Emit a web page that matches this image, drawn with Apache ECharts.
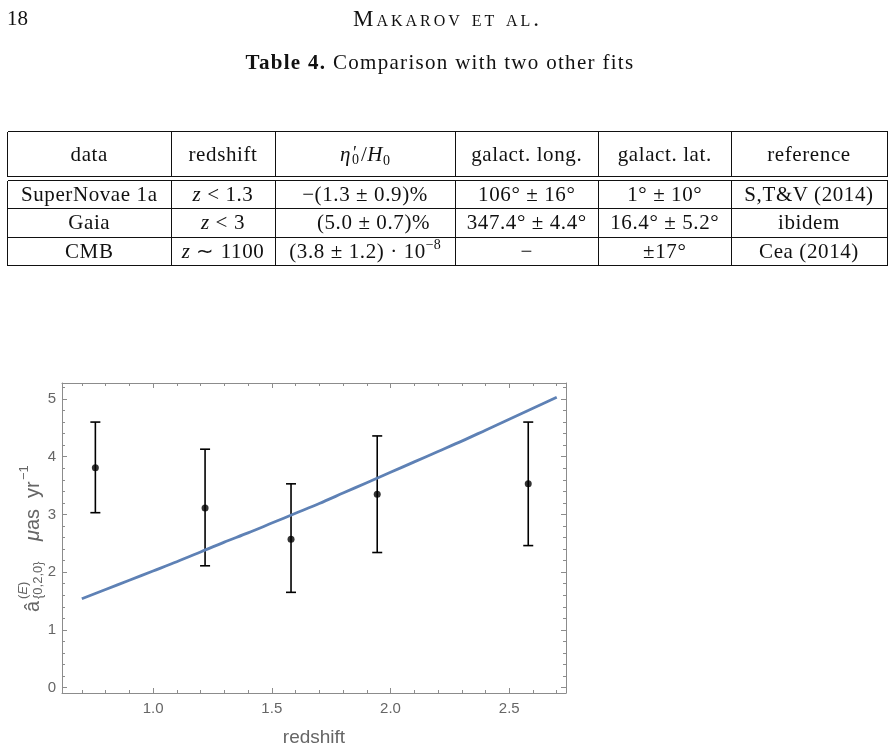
<!DOCTYPE html>
<html><head><meta charset="utf-8">
<script src="https://cdn.jsdelivr.net/npm/echarts@6/dist/echarts.min.js"></script>
<style>
html,body{margin:0;padding:0;background:#fff;width:895px;height:751px;overflow:hidden;}
#chart{position:absolute;left:0;top:0;width:895px;height:751px;}
.t{position:absolute;font-family:'Liberation Serif','Times New Roman',serif;color:#111;white-space:nowrap;line-height:1;}
.hl{position:absolute;height:0;border-top:1px solid #111;}
.vl{position:absolute;width:0;border-left:1px solid #111;}
.cell{position:absolute;display:flex;align-items:center;justify-content:center;font-family:'Liberation Serif','Times New Roman',serif;font-size:21px;letter-spacing:0.6px;white-space:pre;color:#111;line-height:1;}
.cell sub{font-size:14px;line-height:0;letter-spacing:0;vertical-align:-4px;}
.cell sup{font-size:14px;line-height:0;letter-spacing:0;vertical-align:9px;}
.st{display:inline-block;position:relative;width:10px;height:14px;letter-spacing:0;}
.st .p{position:absolute;left:2px;top:-3px;font-size:18px;line-height:1;}
.st .s{position:absolute;left:1px;top:6px;font-size:14px;line-height:1;font-style:normal;}
</style></head>
<body>
<div id="chart"></div>
<div id="page"></div>
<script>
// ---------------- data ----------------
const pageNumber = '18';
const runningHead = 'Makarov et al.';
const captionBold = 'Table 4.';
const captionText = 'Comparison with two other fits';
const tableHeader = ['data', 'redshift', '<i>η</i><span class="st"><span class="p">′</span><span class="s">0</span></span>/<i>H</i><sub>0</sub>', 'galact. long.', 'galact. lat.', 'reference'];
const rowSN   = ['SuperNovae 1a', '<i>z</i> &lt; 1.3', '−(1.3 ± 0.9)%', '106° ± 16°', '1° ± 10°', 'S,T&amp;V (2014)'];
const rowGaia = ['Gaia', '<i>z</i> &lt; 3', '<span style="display:inline-block;width:17px"></span>(5.0 ± 0.7)%', '347.4° ± 4.4°', '16.4° ± 5.2°', 'ibidem'];
const rowCMB  = ['CMB', '<i>z</i> ∼ 1100', '(3.8 ± 1.2) · 10<sup>−8</sup>', '−', '±17°', 'Cea (2014)'];

const curveZ = [0.70, 0.80, 0.90, 1.00, 1.10, 1.20, 1.30, 1.40, 1.50, 1.60, 1.70, 1.80, 1.90, 2.00, 2.10, 2.20, 2.30, 2.40, 2.50, 2.60, 2.70];
const curveA = [1.54, 1.70, 1.86, 2.02, 2.18, 2.35, 2.52, 2.68, 2.85, 3.02, 3.19, 3.37, 3.55, 3.73, 3.91, 4.09, 4.27, 4.46, 4.65, 4.84, 5.03];
const pointZ  = [0.757, 1.219, 1.581, 1.944, 2.580];
const pointA  = [3.81, 3.11, 2.57, 3.35, 3.53];
const errLow  = [3.03, 2.11, 1.65, 2.34, 2.46];
const errHigh = [4.60, 4.13, 3.53, 4.36, 4.60];

const xMajorTicks = [1.0, 1.5, 2.0, 2.5];
const xMinorTicks = [0.7, 0.8, 0.9, 1.1, 1.2, 1.3, 1.4, 1.6, 1.7, 1.8, 1.9, 2.1, 2.2, 2.3, 2.4, 2.6, 2.7];
const yMajorTicks = [0, 1, 2, 3, 4, 5];
const yMinorTicks = [0.2, 0.4, 0.6, 0.8, 1.2, 1.4, 1.6, 1.8, 2.2, 2.4, 2.6, 2.8, 3.2, 3.4, 3.6, 3.8, 4.2, 4.4, 4.6, 4.8, 5.2];
const xAxisTitle = 'redshift';

// ---------------- page text & table (HTML) ----------------
const page = document.getElementById('page');
function addText(html, left, top, size, extra) {
  const d = document.createElement('div');
  d.className = 't';
  d.innerHTML = html;
  d.style.left = left + 'px'; d.style.top = top + 'px'; d.style.fontSize = size + 'px';
  if (extra) Object.assign(d.style, extra);
  page.appendChild(d);
  return d;
}
addText(pageNumber, 7, 8, 21);
addText(runningHead, 0, 7, 23, {width:'895px', textAlign:'center', fontVariant:'small-caps', letterSpacing:'3px'});
addText('<b>' + captionBold + '</b> ' + captionText, 0, 52, 21, {width:'880px', textAlign:'center', letterSpacing:'1.3px'});

const colEdges = [7.5, 171, 275, 455, 598.5, 731, 887];
const rowEdges = [[131.5, 176.5], [180.5, 208.3], [208.3, 237.2], [237.2, 265.8]];
function hline(y, x1, x2) { const d = document.createElement('div'); d.className='hl'; d.style.left=x1+'px'; d.style.width=(x2-x1)+'px'; d.style.top=(y-0.5)+'px'; page.appendChild(d); }
function vline(x, y1, y2) { const d = document.createElement('div'); d.className='vl'; d.style.left=(x-0.5)+'px'; d.style.top=y1+'px'; d.style.height=(y2-y1)+'px'; page.appendChild(d); }
const L = colEdges[0], R = colEdges[colEdges.length-1];
hline(131.5, L, R + 1); hline(176.5, L, R + 1); hline(180.5, L, R + 1); hline(208.3, L, R + 1); hline(237.2, L, R + 1); hline(265.8, L, R + 1);
colEdges.forEach(x => { vline(x, 131.5, 176.5); vline(x, 180.5, 265.8); });
[tableHeader, rowSN, rowGaia, rowCMB].forEach((row, ri) => {
  const [y1, y2] = rowEdges[ri];
  row.forEach((html, ci) => {
    const d = document.createElement('div');
    d.className = 'cell';
    d.innerHTML = '<span>' + html + '</span>';
    d.style.left = colEdges[ci] + 'px';
    d.style.width = (colEdges[ci+1] - colEdges[ci]) + 'px';
    d.style.top = y1 + 'px';
    d.style.height = (y2 - y1) + 'px';
    page.appendChild(d);
  });
});

// ---------------- chart ----------------
const X_MIN = 0.6165, X_MAX = 2.739, Y_MIN = -0.094, Y_MAX = 5.277;
const LINE = '#8c8c8c', LBL = '#666666', FONT = '"Liberation Sans", Arial, sans-serif';

function mkX(position, ticks, len, showLine, labels) {
  return {
    type: 'value', position, min: X_MIN, max: X_MAX,
    axisLine: { show: showLine, onZero: false, lineStyle: { color: LINE, width: 1 } },
    axisTick: { show: true, inside: true, length: len, customValues: ticks, lineStyle: { color: LINE, width: 1 } },
    axisLabel: labels ? { show: true, customValues: xMajorTicks, formatter: v => v.toFixed(1), color: LBL, fontSize: 15, fontFamily: FONT, margin: 8 } : { show: false },
    splitLine: { show: false },
    name: labels ? xAxisTitle : '',
    nameLocation: 'middle', nameGap: 35,
    nameTextStyle: { color: LBL, fontSize: 19, fontFamily: FONT }
  };
}
function mkY(position, ticks, len, showLine, labels) {
  return {
    type: 'value', position, min: Y_MIN, max: Y_MAX,
    axisLine: { show: showLine, onZero: false, lineStyle: { color: LINE, width: 1 } },
    axisTick: { show: true, inside: true, length: len, customValues: ticks, lineStyle: { color: LINE, width: 1 } },
    axisLabel: labels ? { show: true, customValues: yMajorTicks, formatter: v => String(Math.round(v)), color: LBL, fontSize: 15, fontFamily: FONT, margin: 6 } : { show: false },
    splitLine: { show: false }
  };
}

const chart = echarts.init(document.getElementById('chart'), null, { renderer: 'canvas' });
const subFont = '13px ' + FONT;
const mainFont = '20px ' + FONT;
function lbl(text, x, y, font, rich) {
  const style = { text, font, fill: LBL, align: 'left', verticalAlign: 'middle', textAlign: 'left', textVerticalAlign: 'middle' };
  if (rich) style.rich = rich;
  return { type: 'text', x, y, style };
}
chart.setOption({
  animation: false,
  backgroundColor: 'transparent',
  grid: { left: 62, top: 383, width: 504, height: 310, containLabel: false },
  xAxis: [
    mkX('bottom', xMajorTicks, 5, true, true),
    mkX('bottom', xMinorTicks, 3, false, false),
    mkX('top', xMajorTicks, 5, true, false),
    mkX('top', xMinorTicks, 3, false, false)
  ],
  yAxis: [
    mkY('left', yMajorTicks, 5, true, true),
    mkY('left', yMinorTicks, 3, false, false),
    mkY('right', yMajorTicks, 5, true, false),
    mkY('right', yMinorTicks, 3, false, false)
  ],
  graphic: [{
    type: 'group', x: 40, y: 612, rotation: Math.PI / 2, silent: true,
    children: [
      lbl('â', 0, -7, mainFont),
      lbl('({i|E})', 13, -17, subFont, { i: { fontStyle: 'italic', fontSize: 13, fontFamily: FONT, fill: LBL } }),
      lbl('{0,2,0}', 13, -2, subFont),
      lbl('{i|μ}as', 71, -7, mainFont, { i: { fontStyle: 'italic', fontSize: 20, fontFamily: FONT, fill: LBL } }),
      lbl('yr', 114, -7, mainFont),
      lbl('−1', 132, -16, subFont)
    ]
  }],
  series: [
    {
      type: 'custom', xAxisIndex: 0, yAxisIndex: 0, z: 3,
      data: pointZ.map((z, i) => [z, errLow[i], errHigh[i]]),
      encode: { x: 0, y: [1, 2] },
      renderItem: (params, api) => {
        const lo = api.coord([api.value(0), api.value(1)]);
        const hi = api.coord([api.value(0), api.value(2)]);
        const w = 5;
        const st = { stroke: '#000', lineWidth: 1.6 };
        return { type: 'group', children: [
          { type: 'line', shape: { x1: lo[0], y1: lo[1], x2: hi[0], y2: hi[1] }, style: st },
          { type: 'line', shape: { x1: lo[0] - w, y1: lo[1], x2: lo[0] + w, y2: lo[1] }, style: st },
          { type: 'line', shape: { x1: hi[0] - w, y1: hi[1], x2: hi[0] + w, y2: hi[1] }, style: st }
        ] };
      }
    },
    {
      type: 'scatter', xAxisIndex: 0, yAxisIndex: 0, z: 4,
      data: pointZ.map((z, i) => [z, pointA[i]]),
      symbol: 'circle', symbolSize: 7,
      itemStyle: { color: '#000' }
    },
    {
      type: 'line', xAxisIndex: 0, yAxisIndex: 0, z: 5,
      data: curveZ.map((z, i) => [z, curveA[i]]),
      showSymbol: false, smooth: 0.3,
      lineStyle: { color: '#5E81B5', width: 2.8 }
    }
  ]
});
</script>
</body></html>
